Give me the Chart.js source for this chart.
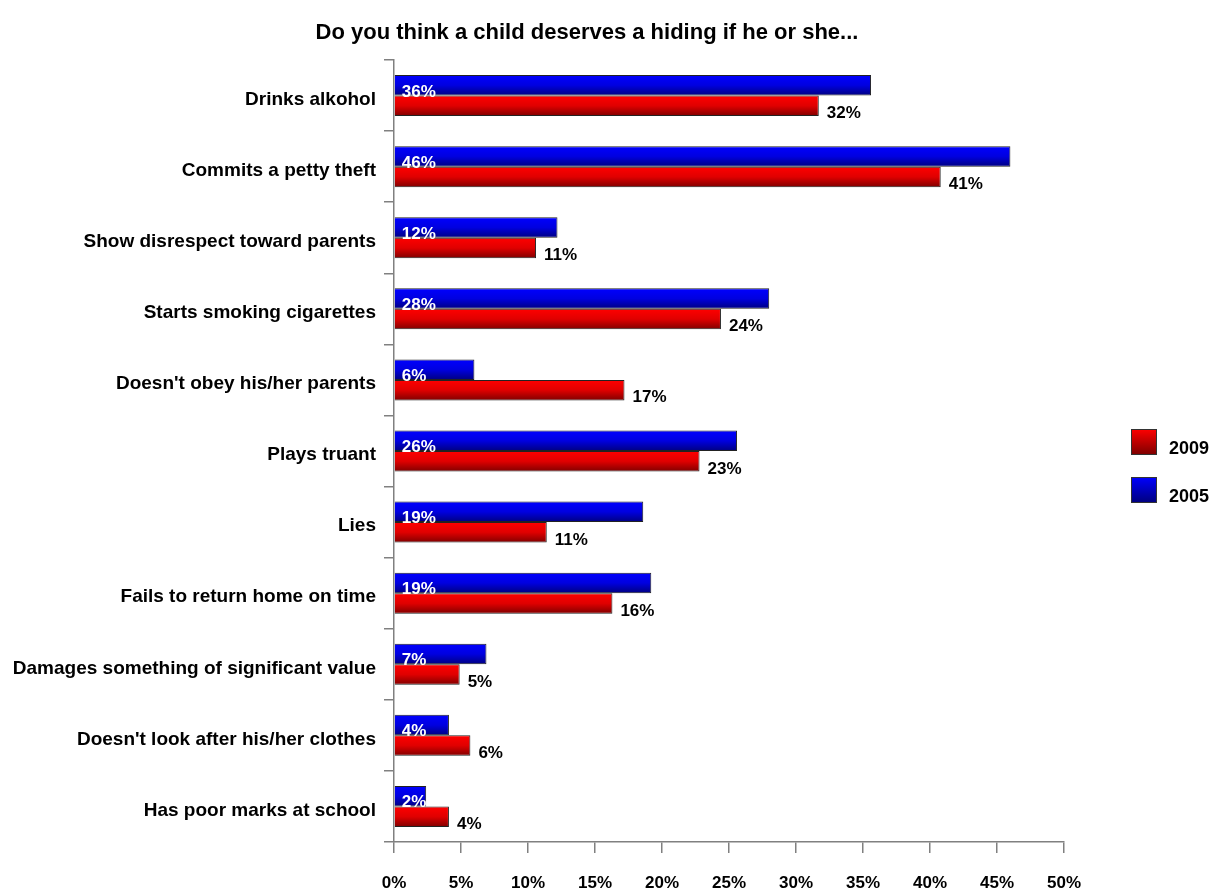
<!DOCTYPE html>
<html>
<head>
<meta charset="utf-8">
<script src="https://cdn.jsdelivr.net/npm/chart.js@4/dist/chart.umd.min.js"></script>
<style>
  html, body { margin: 0; padding: 0; background: #fff; }
  #wrap { width: 1219px; height: 892px; }
</style>
</head>
<body>
<div id="wrap"><canvas id="hidingChart" width="1219" height="892"></canvas></div>
<script>
const chartTitle = 'Do you think a child deserves a hiding if he or she...'
const categories = [
    'Drinks alkohol',
    'Commits a petty theft',
    'Show disrespect toward parents',
    'Starts smoking cigarettes',
    "Doesn't obey his/her parents",
    'Plays truant',
    'Lies',
    'Fails to return home on time',
    'Damages something of significant value',
    "Doesn't look after his/her clothes",
    'Has poor marks at school'
]
const values2005 = [35.6, 46.0, 12.2, 28.0, 6.0, 25.6, 18.6, 19.2, 6.9, 4.1, 2.4]
const values2009 = [31.7, 40.8, 10.6, 24.4, 17.2, 22.8, 11.4, 16.3, 4.9, 5.7, 4.1]
const seriesNames = ['2005', '2009']
const xTicks = [0, 5, 10, 15, 20, 25, 30, 35, 40, 45, 50]

const FONT = '"Liberation Sans", Arial, sans-serif'
const CAT_PCT = 0.577

// vertical gradient for one bar, worked out from the y scale
function barFill(context, topColor, midColor, bottomColor) {
    const chart = context.chart
    const yScale = chart.scales.y
    if (!yScale || context.dataIndex === undefined) return midColor
    const center = yScale.getPixelForValue(context.dataIndex)
    const half = (yScale.height / categories.length) * CAT_PCT / 2
    if (!isFinite(center) || !isFinite(half) || half <= 0) return midColor
    const y0 = context.datasetIndex === 0 ? center - half : center
    const g = chart.ctx.createLinearGradient(0, y0, 0, y0 + half)
    g.addColorStop(0, topColor)
    g.addColorStop(0.5, midColor)
    g.addColorStop(1, bottomColor)
    return g
}

const valueLabels = {
    id: 'valueLabels',
    afterDatasetsDraw(chart) {
        const ctx = chart.ctx
        ctx.save()
        ctx.font = 'bold 17px ' + FONT
        ctx.textBaseline = 'alphabetic'
        ctx.textAlign = 'left'
        chart.data.datasets.forEach(function(ds, di) {
            const meta = chart.getDatasetMeta(di)
            meta.data.forEach(function(bar, i) {
                const text = Math.round(ds.data[i]) + '%'
                const bottom = bar.y + bar.height / 2
                if (di === 0) {
                    ctx.fillStyle = '#ffffff'
                    ctx.fillText(text, bar.base + 7, bottom + 1)
                } else {
                    ctx.fillStyle = '#000000'
                    ctx.fillText(text, bar.x + 8, bottom + 2)
                }
            })
        })
        ctx.restore()
    }
}

const titleAndLegend = {
    id: 'titleAndLegend',
    afterDraw(chart) {
        const ctx = chart.ctx
        const area = chart.chartArea
        ctx.save()
        ctx.fillStyle = '#000'
        ctx.font = 'bold 22px ' + FONT
        ctx.textAlign = 'center'
        ctx.textBaseline = 'middle'
        ctx.fillText(chartTitle, 587, 33)

        // legend: 2009 first, then 2005
        const items = [
            { label: seriesNames[1], top: '#ff0000', bottom: '#800000', y: 429 },
            { label: seriesNames[0], top: '#0000ff', bottom: '#000080', y: 477 }
        ]
        items.forEach(function(it) {
            const x = area.right + 67
            const g = ctx.createLinearGradient(0, it.y, 0, it.y + 25)
            g.addColorStop(0, it.top)
            g.addColorStop(1, it.bottom)
            ctx.fillStyle = g
            ctx.fillRect(x, it.y, 25, 25)
            ctx.strokeStyle = '#333'
            ctx.lineWidth = 1
            ctx.strokeRect(x + 0.5, it.y + 0.5, 25, 25)
            ctx.fillStyle = '#000'
            ctx.textAlign = 'left'
            ctx.textBaseline = 'alphabetic'
            ctx.font = 'bold 18px ' + FONT
            ctx.fillText(it.label, x + 38, it.y + 25)
        })
        ctx.restore()
    }
}

const canvas = document.getElementById('hidingChart')
new Chart(canvas, {
    type: 'bar',
    data: {
        labels: categories,
        datasets: [{
            label: seriesNames[0],
            data: values2005,
            backgroundColor: function(c) { return barFill(c, '#0000ff', '#0000e0', '#000080') },
            borderColor: '#222',
            borderWidth: 1,
            categoryPercentage: CAT_PCT,
            barPercentage: 1
        }, {
            label: seriesNames[1],
            data: values2009,
            backgroundColor: function(c) { return barFill(c, '#ff0000', '#e00000', '#800000') },
            borderColor: '#222',
            borderWidth: 1,
            categoryPercentage: CAT_PCT,
            barPercentage: 1
        }]
    },
    options: {
        indexAxis: 'y',
        responsive: false,
        animation: false,
        layout: { padding: { left: 0, top: 60, right: 155, bottom: 0 } },
        plugins: {
            legend: { display: false },
            title: { display: false },
            tooltip: { enabled: false }
        },
        scales: {
            x: {
                min: 0,
                max: 50,
                afterBuildTicks: function(scale) {
                    scale.ticks = xTicks.map(function(v) { return { value: v } })
                },
                afterFit: function(scale) { scale.height = 50 },
                border: { color: '#808080', width: 1.5 },
                grid: { drawOnChartArea: false, color: '#808080', tickLength: 11, lineWidth: 1.5 },
                ticks: {
                    color: '#000',
                    font: { family: FONT, size: 17, weight: 'bold' },
                    padding: 20,
                    maxRotation: 0,
                    callback: function(v) { return v + '%' }
                }
            },
            y: {
                afterFit: function(scale) { scale.width = 394 },
                border: { color: '#808080', width: 1.5 },
                grid: { drawOnChartArea: false, color: '#808080', tickLength: 10, offset: true, lineWidth: 1.5 },
                ticks: {
                    color: '#000',
                    font: { family: FONT, size: 19, weight: 'bold' },
                    padding: 8,
                    labelOffset: 4
                }
            }
        }
    },
    plugins: [valueLabels, titleAndLegend]
})
</script>
</body>
</html>
